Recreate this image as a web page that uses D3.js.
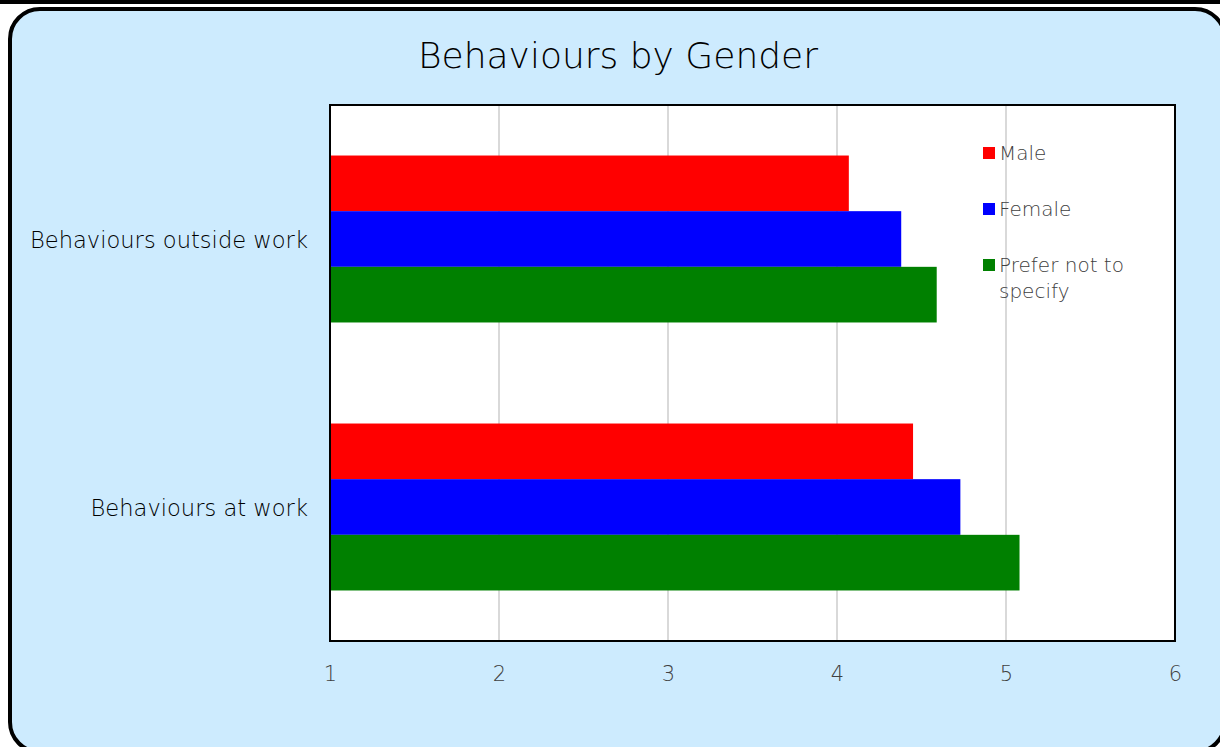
<!DOCTYPE html>
<html>
<head>
<meta charset="utf-8">
<script src="https://cdn.jsdelivr.net/npm/d3@7"></script>
<style>
  body { margin: 0; background: #fff; overflow: hidden; }
  svg { display: block; }
</style>
</head>
<body>
<svg id="chart"></svg>
<script>
// data
var categories = ['Behaviours outside work', 'Behaviours at work'];
var seriesNames = ['Male', 'Female', 'Prefer not to specify'];
var male = [4.07, 4.45];
var female = [4.38, 4.73];
var preferNot = [4.59, 5.08];
var xTicks = [1, 2, 3, 4, 5, 6];
var xDomain = [1, 6];
var colors = ['#ff0000', '#0000ff', '#008000'];

var width = 1220, height = 747;
var plot = {left: 330, top: 105, right: 1175, bottom: 641};
var font = '"DejaVu Sans", sans-serif';

var svg = d3.select('#chart')
  .attr('width', width)
  .attr('height', height);

// frame: black strip on top, then the rounded light blue panel
svg.append('rect')
  .attr('x', 0).attr('y', 0)
  .attr('width', width).attr('height', 4)
  .style('fill', '#000');
svg.append('rect')
  .attr('x', 10).attr('y', 9)
  .attr('width', 1215).attr('height', 743)
  .attr('rx', 30).attr('ry', 30)
  .style('fill', '#cdebfe')
  .style('stroke', '#000')
  .style('stroke-width', 4);

var xScale = d3.scaleLinear()
  .domain(xDomain)
  .range([plot.left, plot.right]);
var yScale = d3.scaleBand()
  .domain(categories)
  .range([plot.top, plot.bottom])
  .paddingInner(0.377)
  .paddingOuter(0.1885);
var ySub = d3.scaleBand()
  .domain(seriesNames)
  .range([0, yScale.bandwidth()]);

// plot area
svg.append('rect')
  .attr('x', plot.left).attr('y', plot.top)
  .attr('width', plot.right - plot.left)
  .attr('height', plot.bottom - plot.top)
  .style('fill', '#fff');

// gridlines
svg.append('g').selectAll('line')
  .data(xTicks.slice(1, -1))
  .enter().append('line')
  .attr('x1', function(d){ return xScale(d); })
  .attr('x2', function(d){ return xScale(d); })
  .attr('y1', plot.top)
  .attr('y2', plot.bottom)
  .style('stroke', '#d9d9d9')
  .style('stroke-width', 2);

// bars
var rows = categories.map(function(c, i){
  return {cat: c, values: [male[i], female[i], preferNot[i]]};
});
var groups = svg.append('g').selectAll('g')
  .data(rows)
  .enter().append('g')
  .attr('transform', function(d){ return 'translate(0,' + yScale(d.cat) + ')'; });
groups.selectAll('rect')
  .data(function(d){ return d.values.map(function(v, j){ return {name: seriesNames[j], value: v, color: colors[j]}; }); })
  .enter().append('rect')
  .attr('x', xScale(xDomain[0]))
  .attr('y', function(d){ return ySub(d.name); })
  .attr('width', function(d){ return xScale(d.value) - xScale(xDomain[0]); })
  .attr('height', ySub.bandwidth())
  .style('fill', function(d){ return d.color; });

// plot border
svg.append('rect')
  .attr('x', plot.left).attr('y', plot.top)
  .attr('width', plot.right - plot.left)
  .attr('height', plot.bottom - plot.top)
  .style('fill', 'none')
  .style('stroke', '#000')
  .style('stroke-width', 2);

// x axis labels
var axisX = d3.axisBottom(xScale).tickValues(xTicks).tickFormat(d3.format('d')).tickSize(0).tickPadding(25);
var axisXG = svg.append('g')
  .attr('transform', 'translate(0,' + plot.bottom + ')')
  .call(axisX);
axisXG.select('.domain').remove();
axisXG.selectAll('text')
  .style('font-family', font)
  .style('font-weight', 200)
  .style('font-size', '21px')
  .style('fill', '#404040');

// y axis labels
var axisY = d3.axisLeft(yScale).tickSize(0).tickPadding(22);
var axisYG = svg.append('g')
  .attr('transform', 'translate(' + plot.left + ',2)')
  .call(axisY);
axisYG.select('.domain').remove();
axisYG.selectAll('text')
  .style('font-family', font)
  .style('font-weight', 200)
  .style('font-size', '22.6px')
  .style('fill', '#000');

// title
svg.append('text')
  .attr('x', 618).attr('y', 68)
  .attr('text-anchor', 'middle')
  .style('font-family', font)
  .style('font-weight', 200)
  .style('font-size', '36px')
  .style('fill', '#000')
  .text('Behaviours by Gender');

// legend
var legendLines = [['Male'], ['Female'], ['Prefer not to', 'specify']];
var legend = svg.append('g').attr('transform', 'translate(983,153)');
var items = legend.selectAll('g')
  .data(seriesNames)
  .enter().append('g')
  .attr('transform', function(d, i){ return 'translate(0,' + (i * 56) + ')'; });
items.append('rect')
  .attr('x', 0).attr('y', -6)
  .attr('width', 12).attr('height', 12)
  .style('fill', function(d, i){ return colors[i]; });
items.append('text')
  .attr('x', 16)
  .attr('y', 7)
  .style('font-family', font)
  .style('font-weight', 200)
  .style('font-size', '20px')
  .style('fill', '#404040')
  .selectAll('tspan')
  .data(function(d, i){ return legendLines[i]; })
  .enter().append('tspan')
  .attr('x', 16)
  .attr('dy', function(d, k){ return k === 0 ? 0 : 26; })
  .text(function(d){ return d; });
</script>
</body>
</html>
